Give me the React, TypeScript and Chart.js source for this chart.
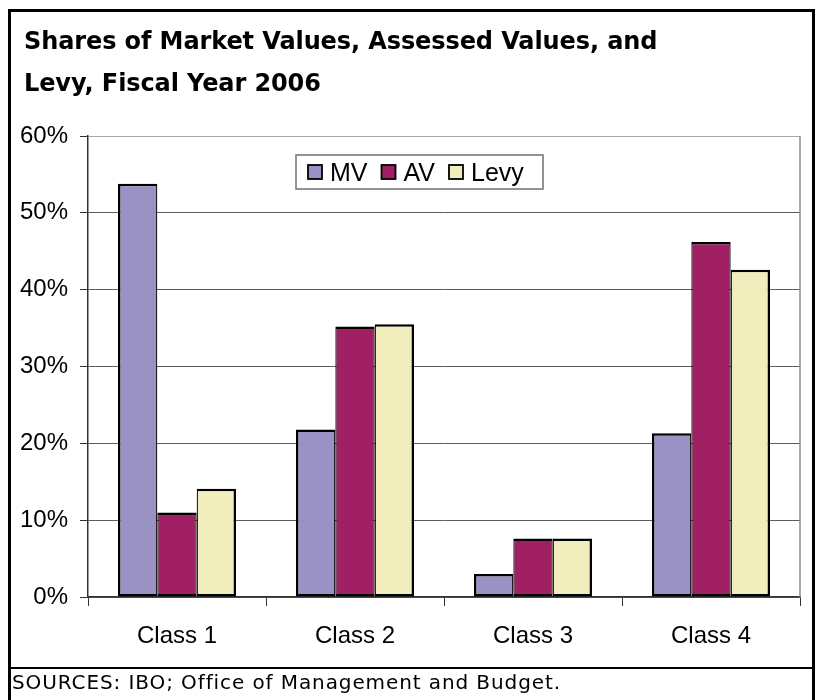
import React, { useEffect, useRef } from 'react';
import { Chart, registerables } from 'chart.js';

Chart.register(...registerables);

const categories = ['Class 1', 'Class 2', 'Class 3', 'Class 4'];
const seriesNames = ['MV', 'AV', 'Levy'];
const mvValues = [53.8, 21.8, 3.0, 21.3];
const avValues = [11.0, 35.2, 7.6, 46.2];
const levyValues = [14.1, 35.5, 7.6, 42.6];
const seriesColors = ['#9a91c5', '#a11f63', '#f1edbd'];
const yMin = 0;
const yMax = 60;
const yStep = 10;
const titleLines = ['Shares of Market Values, Assessed Values, and', 'Levy, Fiscal Year 2006'];
const sourceText = 'SOURCES: IBO; Office of Management and Budget.';

const tickFont = "'Liberation Sans', Arial, sans-serif";

const boxLegend = {
  id: 'boxLegend',
  afterDraw(chart: any) {
    const ctx = chart.ctx;
    const ca = chart.chartArea;
    ctx.save();
    // right frame line of plot area
    ctx.strokeStyle = '#8c8c8c';
    ctx.lineWidth = 1.5;
    ctx.beginPath();
    ctx.moveTo(ca.right, ca.top);
    ctx.lineTo(ca.right, ca.bottom);
    ctx.stroke();

    // legend box
    const x0 = ca.left + 208;
    const y0 = ca.top + 19;
    const w = 247;
    const h = 34;
    ctx.fillStyle = '#ffffff';
    ctx.fillRect(x0, y0, w, h);
    ctx.strokeStyle = '#707070';
    ctx.lineWidth = 1.5;
    ctx.strokeRect(x0, y0, w, h);

    const fs = 25;
    ctx.font = `${fs}px ${tickFont}`;
    ctx.textBaseline = 'alphabetic';
    ctx.textAlign = 'left';
    const cy = y0 + h / 2;
    let x = x0 + 12;
    chart.data.datasets.forEach((ds: any) => {
      const sq = 14;
      ctx.fillStyle = ds.backgroundColor;
      ctx.fillRect(x, cy - sq / 2, sq, sq);
      ctx.strokeStyle = '#000';
      ctx.lineWidth = 1.8;
      ctx.strokeRect(x, cy - sq / 2, sq, sq);
      x += sq + 8;
      ctx.fillStyle = '#000';
      ctx.fillText(ds.label, x, cy + 9);
      x += ctx.measureText(ds.label).width + 14;
    });
    ctx.restore();
  },
};

function App() {
  const canvasRef = useRef<HTMLCanvasElement | null>(null);

  useEffect(() => {
    const canvas = canvasRef.current;
    if (!canvas) return;
    const values = [mvValues, avValues, levyValues];
    const borders = [
      { left: 2.5, right: 1.25, top: 2.5, bottom: 2.5 },
      { left: 1.25, right: 1.25, top: 2.5, bottom: 2.5 },
      { left: 1.25, right: 2.5, top: 2.5, bottom: 2.5 },
    ];
    const chart = new Chart(canvas, {
      type: 'bar',
      data: {
        labels: categories,
        datasets: seriesNames.map((name, i) => ({
          label: name,
          data: values[i],
          backgroundColor: seriesColors[i],
          borderColor: '#000000',
          borderWidth: borders[i] as any,
          borderSkipped: false as any,
          categoryPercentage: 0.663,
          barPercentage: 1.0,
        })),
      },
      options: {
        responsive: false,
        animation: false,
        devicePixelRatio: 1,
        layout: { padding: { left: 0, top: 136, right: 18, bottom: 0 } },
        plugins: {
          legend: { display: false },
          title: { display: false },
          tooltip: { enabled: false },
        },
        scales: {
          x: {
            afterFit: (s: any) => {
              s.height = 103;
            },
            grid: {
              offset: true,
              drawOnChartArea: false,
              drawTicks: true,
              tickLength: 9,
              tickColor: '#333333',
              tickWidth: 1,
            },
            border: { display: true, color: '#333333', width: 1.5 },
            ticks: {
              font: { family: tickFont, size: 24 },
              color: '#000000',
              padding: 16,
            },
          },
          y: {
            min: yMin,
            max: yMax,
            afterFit: (s: any) => {
              s.width = 88;
            },
            grid: {
              color: (c: any) => (c.tick && c.tick.value === yMax ? '#a8a8a8' : '#5c5c5c'),
              lineWidth: 1,
              tickLength: 8,
              tickColor: '#333333',
              tickWidth: 1,
            },
            border: { display: true, color: '#333333', width: 1.5 },
            ticks: {
              stepSize: yStep,
              callback: (v: any) => `${v}%`,
              font: { family: tickFont, size: 24 },
              color: '#000000',
              padding: 12,
            },
          },
        },
      },
      plugins: [boxLegend],
    });
    return () => chart.destroy();
  }, []);

  return (
    <div style={{ position: 'absolute', left: 0, top: 0, width: 818, height: 700, overflow: 'hidden', background: '#fff' }}>
      <canvas ref={canvasRef} width={818} height={700} style={{ position: 'absolute', left: 0, top: 0, width: 818, height: 700 }} />
      <div
        style={{
          position: 'absolute',
          left: 8,
          top: 9,
          width: 807,
          height: 720,
          border: '3px solid #000',
          boxSizing: 'border-box',
        }}
      />
      <div style={{ position: 'absolute', left: 8, top: 667, width: 807, height: 0, borderTop: '2px solid #000' }} />
      <div
        style={{
          position: 'absolute',
          left: 24,
          top: 20,
          fontFamily: "'DejaVu Sans', sans-serif",
          fontWeight: 'bold',
          fontSize: 24,
          lineHeight: '42px',
          letterSpacing: '-0.1px',
          whiteSpace: 'nowrap',
          color: '#000',
        }}
      >
        {titleLines.map((t, i) => (
          <div key={i}>{t}</div>
        ))}
      </div>
      <div
        style={{
          position: 'absolute',
          left: 12,
          top: 670,
          fontFamily: "'DejaVu Sans', sans-serif",
          fontSize: 20,
          lineHeight: '24px',
          letterSpacing: '0.9px',
          whiteSpace: 'nowrap',
          color: '#000',
        }}
      >
        {sourceText}
      </div>
    </div>
  );
}

export default App;
